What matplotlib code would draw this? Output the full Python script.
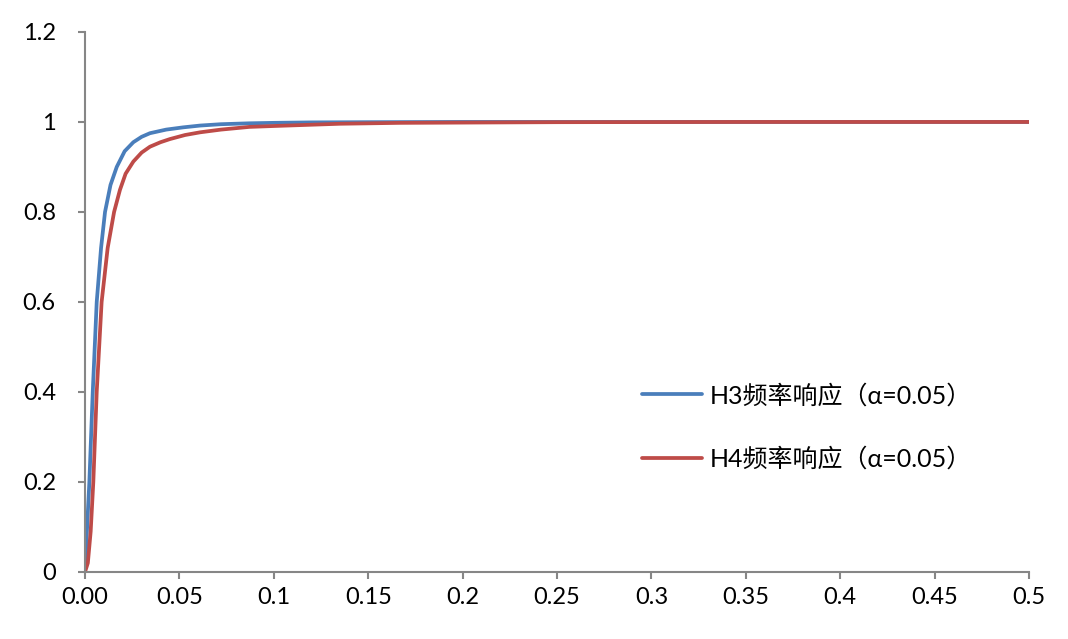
import matplotlib
matplotlib.use('Agg')
import matplotlib.pyplot as plt

plt.rcParams['font.family'] = ['Lato', 'Noto Sans CJK SC', 'DejaVu Sans']

# values
h3_x = [0, 0.001, 0.0023, 0.0041, 0.0062, 0.0085, 0.0106, 0.0135, 0.0168, 0.021,
        0.0256, 0.03, 0.0344, 0.043, 0.052, 0.061, 0.072, 0.087, 0.1, 0.12, 0.15,
        0.2, 0.3, 0.4, 0.5]
h3_y = [0, 0.09, 0.2, 0.4, 0.6, 0.72, 0.8, 0.86, 0.9, 0.935,
        0.955, 0.967, 0.975, 0.983, 0.988, 0.992, 0.995, 0.997, 0.998, 0.999, 0.9995,
        1.0, 1.0, 1.0, 1.0]

h4_x = [0, 0.0015, 0.003, 0.0044, 0.0062, 0.0088, 0.012, 0.0154, 0.0185, 0.0215,
        0.0256, 0.03, 0.0344, 0.04, 0.045, 0.053, 0.061, 0.072, 0.087, 0.1,
        0.114, 0.135, 0.167, 0.25, 0.35, 0.5]
h4_y = [0, 0.02, 0.09, 0.2, 0.4, 0.6, 0.72, 0.8, 0.849, 0.885,
        0.912, 0.932, 0.945, 0.955, 0.962, 0.971, 0.977, 0.983, 0.989, 0.991,
        0.993, 0.996, 0.998, 0.9995, 1.0, 1.0]

x_ticks = [0, 0.05, 0.1, 0.15, 0.2, 0.25, 0.3, 0.35, 0.4, 0.45, 0.5]
x_labels = ['0.00', '0.05', '0.1', '0.15', '0.2', '0.25', '0.3', '0.35', '0.4', '0.45', '0.5']
y_ticks = [0, 0.2, 0.4, 0.6, 0.8, 1.0, 1.2]
y_labels = ['0', '0.2', '0.4', '0.6', '0.8', '1', '1.2']

fig = plt.figure(figsize=(10.68, 6.39), dpi=100)
ax = fig.add_axes([0.0796, 0.1049, 0.8839, 0.8451])

ax.plot(h3_x, h3_y, color='#4A7EBB', lw=2.7, label='H3频率响应（α=0.05）', solid_capstyle='round')
ax.plot(h4_x, h4_y, color='#BE4B48', lw=2.7, label='H4频率响应（α=0.05）', solid_capstyle='round')

ax.set_xlim(0, 0.5)
ax.set_ylim(0, 1.2)
ax.set_xticks(x_ticks)
ax.set_xticklabels(x_labels)
ax.set_yticks(y_ticks)
ax.set_yticklabels(y_labels)

gray = '#868686'
for s in ['top', 'right']:
    ax.spines[s].set_visible(False)
for s in ['left', 'bottom']:
    ax.spines[s].set_color(gray)
    ax.spines[s].set_linewidth(1.5)
ax.tick_params(direction='out', length=5, width=1.5, color=gray, labelsize=17, labelcolor='black')
ax.tick_params(axis='x', pad=6)
ax.tick_params(axis='y', pad=16)

ax.legend(loc='center left', bbox_to_anchor=(0.590, 0.268), frameon=False, fontsize=18,
          handlelength=2.4, handletextpad=0.3, labelspacing=1.6, borderaxespad=0, borderpad=0)

fig.savefig('out.png', dpi=100)
